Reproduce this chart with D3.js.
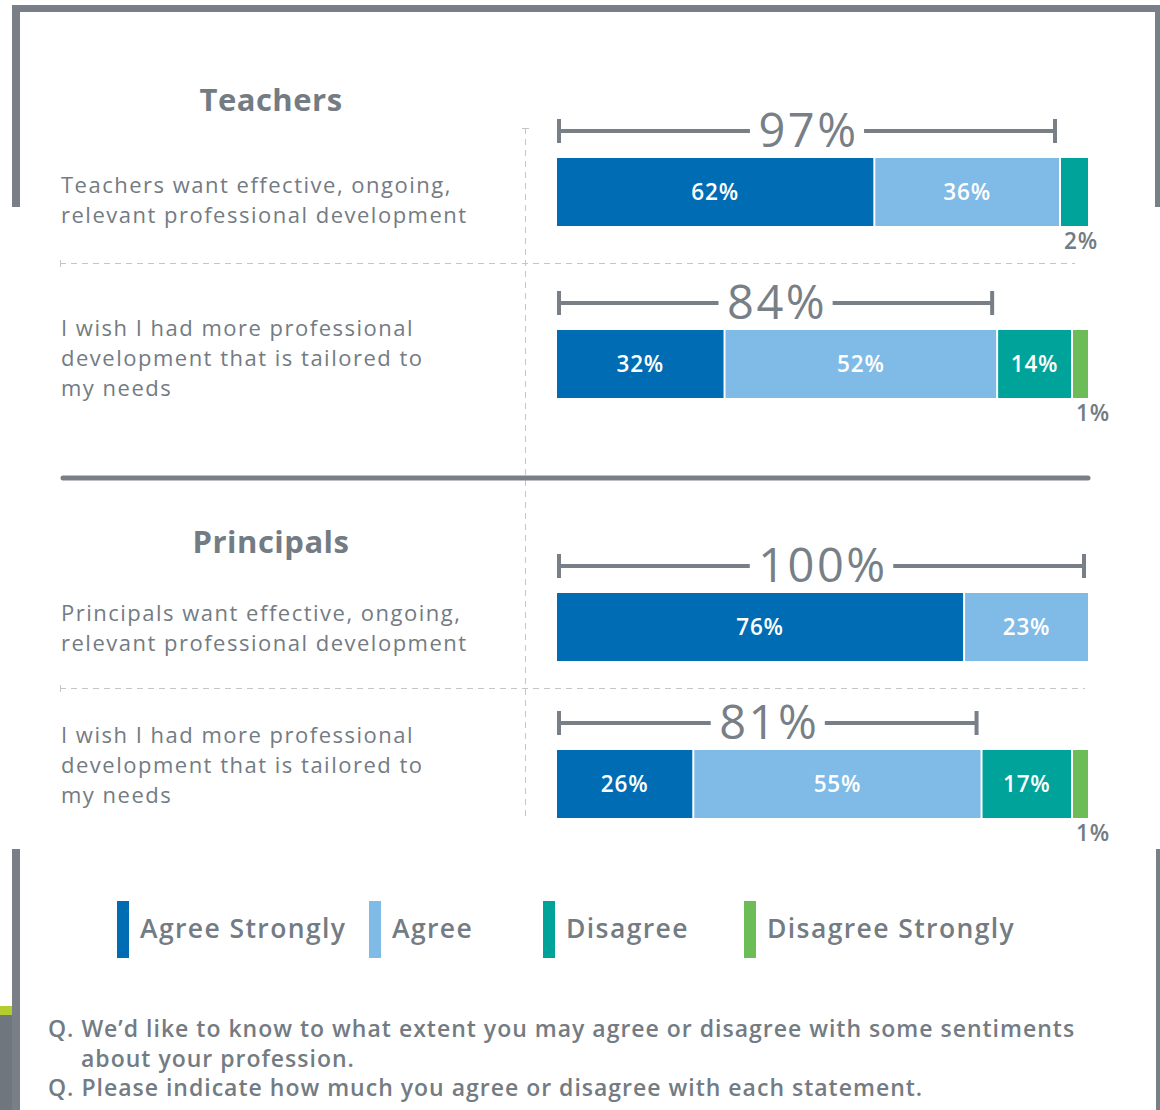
<!DOCTYPE html>
<html lang="en">
<head>
<meta charset="UTF-8">
<style>
  body { margin: 0; background: #ffffff; }
  #chart { display: block; }
  text { font-family: "Open Sans", sans-serif; }
</style>
</head>
<body>
<svg id="chart"></svg>
<script src="https://d3js.org/d3.v7.min.js"></script>
<script>
// ---- data ----
const categories = ["Agree Strongly", "Agree", "Disagree", "Disagree Strongly"];
const groups = ["Teachers", "Principals"];
const rowGroup = [0, 0, 1, 1];
const statements = [
  ["Teachers want effective, ongoing,", "relevant professional development"],
  ["I wish I had more professional", "development that is tailored to", "my needs"],
  ["Principals want effective, ongoing,", "relevant professional development"],
  ["I wish I had more professional", "development that is tailored to", "my needs"]
];
const agreeStrongly = [62, 32, 76, 26];
const agree = [36, 52, 23, 55];
const disagree = [2, 14, 0, 17];
const disagreeStrongly = [0, 1, 0, 1];
const totalAgree = ["97%", "84%", "100%", "81%"];
const footnotes = [
  "Q. We\u2019d like to know to what extent you may agree or disagree with some sentiments",
  "about your profession.",
  "Q. Please indicate how much you agree or disagree with each statement."
];

// ---- styles / layout ----
const colors = ["#006cb4", "#80bae6", "#00a39a", "#6cbd58"];
const gray = "#787f87";
const textGray = "#737b83";
const width = 1160, height = 1110;
const barX0 = 557, barX1 = 1088, barH = 68, gap = 2;

const svg = d3.select("#chart").attr("width", width).attr("height", height);

// frame pieces
const frame = svg.append("g").attr("fill", gray);
frame.append("rect").attr("x", 12).attr("y", 5).attr("width", 1148).attr("height", 7);
frame.append("rect").attr("x", 12).attr("y", 5).attr("width", 8).attr("height", 202);
frame.append("rect").attr("x", 1155).attr("y", 5).attr("width", 5).attr("height", 202);
frame.append("rect").attr("x", 12).attr("y", 849).attr("width", 8).attr("height", 261);
frame.append("rect").attr("x", 1156).attr("y", 849).attr("width", 4).attr("height", 261);
svg.append("rect").attr("x", 0).attr("y", 1015).attr("width", 12).attr("height", 95).attr("fill", "#6f767e");
svg.append("rect").attr("x", 0).attr("y", 1006).attr("width", 12).attr("height", 9).attr("fill", "#b3cd2f");

// row positions
const rows = d3.range(agree.length);
const y = d3.scaleOrdinal().domain(rows).range([158, 330, 593, 750]);
const descY = d3.scaleOrdinal().domain(rows).range([193, 336, 621, 743]);
const groupY = d3.scaleOrdinal().domain([0, 1]).range([111, 553]);

// grid lines
const grid = svg.append("g").attr("stroke", "#c3c5c8").attr("stroke-width", 1).attr("fill", "none");
grid.append("line").attr("x1", 525.5).attr("x2", 525.5).attr("y1", 128).attr("y2", 818)
  .attr("stroke-dasharray", "6,5");
grid.append("line").attr("x1", 522).attr("x2", 529).attr("y1", 128.5).attr("y2", 128.5);
[[263, 1075], [688, 1085]].forEach(([yy, xe]) => {
  grid.append("line").attr("x1", 60).attr("x2", xe).attr("y1", yy + 0.5).attr("y2", yy + 0.5)
    .attr("stroke-dasharray", "6,5");
  grid.append("line").attr("x1", 60.5).attr("x2", 60.5).attr("y1", yy - 3).attr("y2", yy + 4);
});

// solid separator between groups
svg.append("line").attr("x1", 63).attr("x2", 1088).attr("y1", 478).attr("y2", 478)
  .attr("stroke", gray).attr("stroke-width", 5).attr("stroke-linecap", "round");

// group titles
svg.selectAll("text.group").data(groups).join("text")
  .attr("class", "group")
  .attr("x", 271).attr("y", (d, i) => groupY(i))
  .attr("text-anchor", "middle")
  .attr("font-size", 31).attr("font-weight", 700).attr("letter-spacing", 0.5).attr("fill", textGray)
  .text(d => d);

// statements (one text per line)
rows.forEach(i => {
  svg.append("g").selectAll("text").data(statements[i]).join("text")
    .attr("x", 61).attr("y", (d, k) => descY(i) + k * 30)
    .attr("font-size", 22).attr("letter-spacing", 1.5).attr("fill", textGray)
    .text(d => d);
});

// bars
const smallW = d3.scaleLinear().domain([0, 2]).range([3, 27]);
rows.forEach(i => {
  const vals = [agreeStrongly[i], agree[i], disagree[i], disagreeStrongly[i]];
  const isSmall = vals.map(v => v > 0 && v < 5);
  const nSeg = vals.filter(v => v > 0).length;
  const smallTotal = d3.sum(vals.map((v, k) => isSmall[k] ? smallW(v) : 0));
  const x = d3.scaleLinear()
    .domain([0, d3.sum(vals.filter((v, k) => !isSmall[k]))])
    .range([0, (barX1 - barX0) - gap * (nSeg - 1) - smallTotal]);

  let cx = barX0;
  const segs = [];
  vals.forEach((v, k) => {
    if (v <= 0) return;
    const w = isSmall[k] ? smallW(v) : x(v);
    segs.push({ k, v, x0: cx, w, small: isSmall[k] });
    cx += w + gap;
  });

  const top = y(i);
  const g = svg.append("g");
  g.selectAll("rect").data(segs).join("rect")
    .attr("x", d => d.x0).attr("y", top)
    .attr("width", d => d.w).attr("height", barH)
    .attr("fill", d => colors[d.k]);

  g.selectAll("text.in").data(segs.filter(d => !d.small)).join("text")
    .attr("class", "in")
    .attr("x", d => d.x0 + d.w / 2).attr("y", top + barH / 2 + 8)
    .attr("text-anchor", "middle")
    .attr("font-size", 22.5).attr("font-weight", 600).attr("letter-spacing", 0.8).attr("fill", "#ffffff")
    .text(d => d.v + "%");

  g.selectAll("text.out").data(segs.filter(d => d.small)).join("text")
    .attr("class", "out")
    .attr("x", d => d.x0 + 3).attr("y", top + barH + 23)
    .attr("font-size", 22.5).attr("font-weight", 600).attr("letter-spacing", 0.8).attr("fill", textGray)
    .text(d => d.v + "%");

  // bracket over agree strongly + agree
  const agreeSeg = segs.find(d => d.k === 1) || segs.find(d => d.k === 0);
  const bx0 = barX0 + 2, bx1 = agreeSeg.x0 + agreeSeg.w - 4;
  const by = top - 27;
  const mid = (bx0 + bx1) / 2;
  const label = g.append("text")
    .attr("x", mid + 1.5).attr("y", by + 16)
    .attr("text-anchor", "middle")
    .attr("font-size", 47).attr("font-weight", 400).attr("letter-spacing", 2.5).attr("fill", gray)
    .text(totalAgree[i]);
  const tw = label.node().getComputedTextLength();
  const br = g.append("g").attr("stroke", gray).attr("stroke-width", 4);
  br.append("line").attr("x1", bx0).attr("x2", mid - tw / 2 - 7).attr("y1", by).attr("y2", by);
  br.append("line").attr("x1", mid + tw / 2 + 7).attr("x2", bx1).attr("y1", by).attr("y2", by);
  br.append("line").attr("x1", bx0).attr("x2", bx0).attr("y1", by - 12).attr("y2", by + 12);
  br.append("line").attr("x1", bx1).attr("x2", bx1).attr("y1", by - 12).attr("y2", by + 12);
});

// legend
const legendX = d3.scaleOrdinal().domain(categories).range([117, 369, 543, 744]);
const legend = svg.selectAll("g.legend").data(categories).join("g")
  .attr("class", "legend")
  .attr("transform", d => `translate(${legendX(d)},901)`);
legend.append("rect").attr("width", 12).attr("height", 57).attr("fill", (d, i) => colors[i]);
legend.append("text").attr("x", 23).attr("y", 37)
  .attr("font-size", 26.5).attr("font-weight", 600).attr("letter-spacing", 1.4).attr("fill", textGray)
  .text(d => d);

// footnotes
svg.selectAll("text.note").data(footnotes).join("text")
  .attr("class", "note")
  .attr("x", (d, i) => i === 1 ? 81 : 48)
  .attr("y", (d, i) => 1037 + i * 29.5)
  .attr("font-size", 23).attr("font-weight", 600).attr("letter-spacing", 1).attr("fill", textGray)
  .text(d => d);
</script>
</body>
</html>
